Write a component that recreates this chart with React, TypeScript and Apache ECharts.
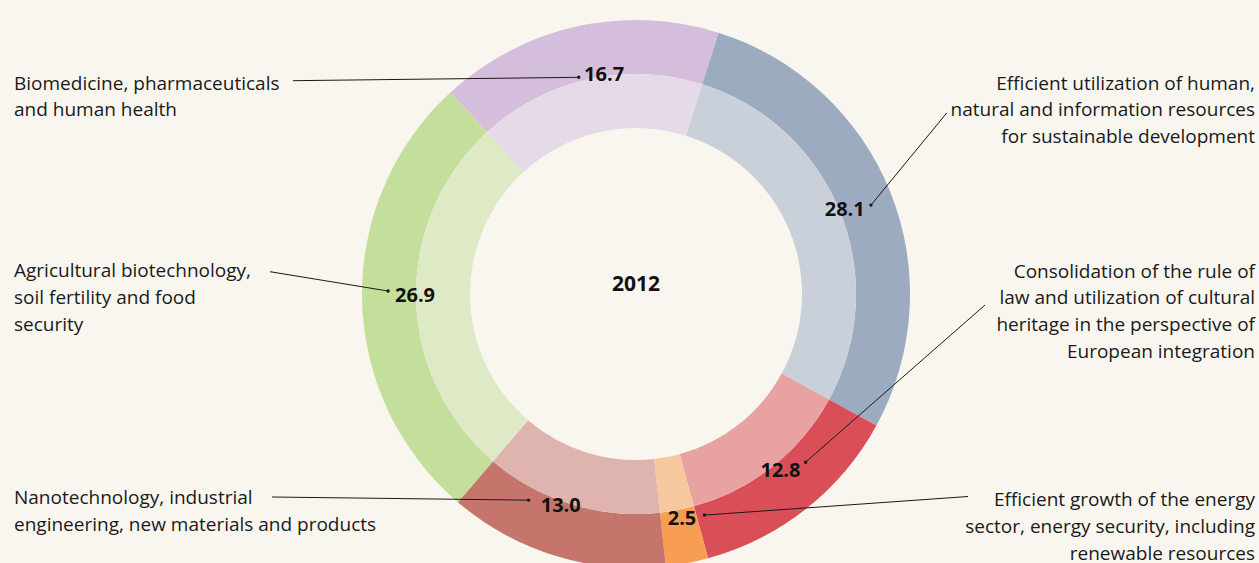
import React, { useEffect, useRef } from "react";
import * as echarts from "echarts";

// ---- data ----
const CATEGORIES = [
  "Efficient utilization of human,\nnatural and information resources\nfor sustainable development",
  "Consolidation of the rule of\nlaw and utilization of cultural\nheritage in the perspective of\nEuropean integration",
  "Efficient growth of the energy\nsector, energy security, including\nrenewable resources",
  "Nanotechnology, industrial\nengineering, new materials and products",
  "Agricultural biotechnology,\nsoil fertility and food\nsecurity",
  "Biomedicine, pharmaceuticals\nand human health",
];
const VALUES = [28.1, 12.8, 2.5, 13.0, 26.9, 16.7];
const YEAR = "2012";

// ---- styles ----
const OUTER_COLORS = ["#9dabc1", "#da4e57", "#f89e53", "#c5756c", "#c4df9b", "#d4bedc"];
const INNER_COLORS = ["#cad0d9", "#e8a2a2", "#f7c89d", "#e0b4ae", "#dee9c6", "#e6dae8"];
const BG = "#f9f6ef";
const FONT = "'Open Sans', 'Noto Sans', sans-serif";

// ---- layout ----
const CX = 636;
const CY = 294;
const START_ANGLE = 72.5;
const R_IN = 166;
const R_MID = 220;
const R_OUT = 274;
const LABEL_R = 222;
const LABEL_NUDGE = [[0, -2], [5, -1], [4, 2], [-9, -5], [4, -4], [17, -1]];
const DOT_OFFSET = [[29, -4], [27, -5], [23, 1], [-33, -1], [-30, -3], [-26, 1]];
const NAME_POS = [
  { x: 1255, y: 69.5, align: "right" },
  { x: 1255, y: 257.5, align: "right" },
  { x: 1255, y: 486, align: "right" },
  { x: 14, y: 484, align: "left" },
  { x: 14, y: 257, align: "left" },
  { x: 14, y: 69.5, align: "left" },
];
const LINE_START = [[946.7, 113], [985, 305], [968, 496.5], [272, 497], [270, 271.7], [293, 80.7]];

function labelCenter(i: number): [number, number] {
  const total = VALUES.reduce((a, b) => a + b, 0);
  let cum = 0;
  for (let k = 0; k < i; k++) cum += VALUES[k];
  const frac = (cum + VALUES[i] / 2) / total;
  const ang = ((START_ANGLE - frac * 360) * Math.PI) / 180;
  return [CX + LABEL_R * Math.cos(ang) + LABEL_NUDGE[i][0], CY - LABEL_R * Math.sin(ang) + LABEL_NUDGE[i][1]];
}

export default function App() {
  const ref = useRef<HTMLDivElement>(null);
  useEffect(() => {
    if (!ref.current) return;
    const chart = echarts.init(ref.current, undefined, { renderer: "svg" });
    const data = VALUES.map((v, i) => ({ name: CATEGORIES[i], value: v }));

    const graphics: any[] = [];
    VALUES.forEach((_, i) => {
      const [lx, ly] = labelCenter(i);
      const ax = lx + DOT_OFFSET[i][0];
      const ay = ly + DOT_OFFSET[i][1];
      graphics.push({
        type: "line",
        silent: true,
        z: 10,
        shape: { x1: LINE_START[i][0], y1: LINE_START[i][1], x2: ax, y2: ay },
        style: { stroke: "#1a1a1a", lineWidth: 1 },
      });
      graphics.push({
        type: "circle",
        silent: true,
        z: 10,
        shape: { cx: ax, cy: ay, r: 1.7 },
        style: { fill: "#1a1a1a" },
      });
      graphics.push({
        type: "text",
        silent: true,
        x: NAME_POS[i].x,
        y: NAME_POS[i].y,
        style: {
          text: CATEGORIES[i],
          fill: "#1a1a1a",
          fontSize: 19,
          fontFamily: FONT,
          lineHeight: 26.6,
          align: NAME_POS[i].align,
          verticalAlign: "top",
        },
      });
    });
    graphics.push({
      type: "text",
      silent: true,
      x: CX,
      y: 283,
      style: {
        text: YEAR,
        fill: "#111",
        fontSize: 21,
        fontWeight: "bold",
        fontFamily: FONT,
        align: "center",
        verticalAlign: "middle",
      },
    });

    chart.setOption({
      animation: false,
      backgroundColor: BG,
      graphic: graphics,
      series: [
        {
          type: "pie",
          silent: true,
          center: [CX, CY],
          radius: [R_MID, R_OUT],
          startAngle: START_ANGLE,
          clockwise: true,
          data,
          label: { show: false },
          labelLine: { show: false },
          itemStyle: { color: (p: any) => OUTER_COLORS[p.dataIndex], borderWidth: 0 },
        },
        {
          type: "pie",
          silent: true,
          center: [CX, CY],
          radius: [R_IN, R_MID],
          startAngle: START_ANGLE,
          clockwise: true,
          data,
          label: { show: false },
          labelLine: { show: false },
          itemStyle: { color: (p: any) => INNER_COLORS[p.dataIndex], borderWidth: 0 },
        },
        {
          type: "pie",
          silent: true,
          center: [CX, CY],
          radius: [LABEL_R - 24, LABEL_R + 24],
          startAngle: START_ANGLE,
          clockwise: true,
          avoidLabelOverlap: false,
          data,
          itemStyle: { color: "rgba(0,0,0,0)", borderWidth: 0 },
          labelLine: { show: false },
          label: {
            show: true,
            position: "inside",
            formatter: (p: any) => Number(p.value).toFixed(1),
            fontSize: 20,
            fontWeight: "bold",
            fontFamily: FONT,
            color: "#111",
          },
          labelLayout: (p: any) => ({ dx: LABEL_NUDGE[p.dataIndex][0], dy: LABEL_NUDGE[p.dataIndex][1] }),
        },
      ],
    });
    return () => chart.dispose();
  }, []);
  return (
    <div
      ref={ref}
      style={{ position: "absolute", left: 0, top: 0, width: 1259, height: 563, background: BG }}
    />
  );
}
